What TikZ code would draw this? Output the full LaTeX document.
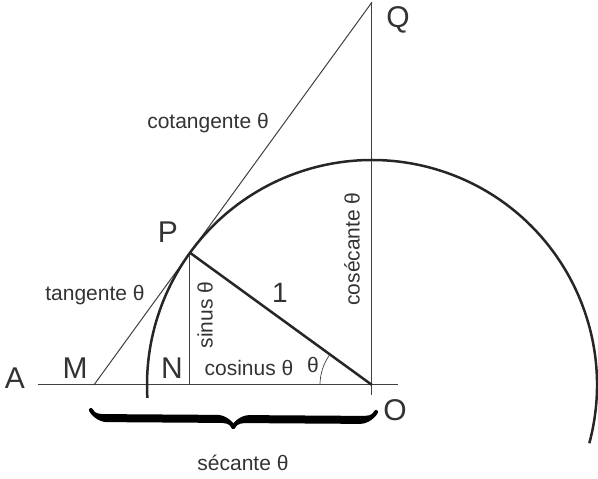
\documentclass[tikz,border=0pt]{standalone}
\usepackage{fontspec}
\setmainfont{Liberation Sans}
\usetikzlibrary{decorations.pathreplacing,calligraphy,calc}

\begin{document}
\begin{tikzpicture}[
  x=1pt, y=1pt,
  thin line/.style  = {line width=1pt, black!75},
  thick line/.style = {line width=2.5pt, black!85},
  lbl/.style   = {text=black!80, inner sep=0pt, font=\fontsize{21}{24}\selectfont},
  pt/.style    = {text=black!80, inner sep=0pt, font=\fontsize{30}{34}\selectfont},
  brace/.style = {decorate, decoration={calligraphic brace, amplitude=16pt, mirror},
                  line width=8pt, black!85},
]
\useasboundingbox (-372,-94) rectangle (226,385);

\coordinate (O) at (0,0);
\coordinate (P) at (144:225);
\coordinate (N) at (P |- O);
\coordinate (M) at (-278.1,0);
\coordinate (Q) at (0,382.8);
\coordinate (axisL) at (-334,0);
\coordinate (axisR) at (26,0);
\coordinate (vertB) at (0,-10);

% axes
\draw[thin line] (axisL) -- (axisR);
\draw[thin line] (Q) -- (vertB);
% tangent line through P
\draw[thin line] (M) -- (Q);
\draw[thin line] (P) -- (N);
% circle and radius
\draw[thick line] (-15:225) arc[start angle=-15, end angle=183.3, radius=225];
\draw[thick line] (O) -- (P);
\draw[thin line, line width=0.7pt] (180:52) arc[start angle=180, end angle=144, radius=52];

\node[pt] (labA) at (-357,7) {A};
\node[pt] (labM) at (-297,17) {M};
\node[pt] (labN) at (-200,17) {N};
\node[pt] (labP) at (-204,153) {P};
\node[pt] (labQ) at (26,365) {Q};
\node[pt] (labO) at (23,-25) {O};
\node[pt, font=\fontsize{28}{32}\selectfont] (labone) at (-92,92) {1};

\node[lbl] (cos) at (-123,17) {cosinus θ};
\node[lbl] (ang) at (-59,20) {θ};
\node[lbl, rotate=90] (sin) at (-167,70) {sinus θ};
\node[lbl] (tan) at (-277,90) {tangente θ};
\node[lbl] (cot) at (-164,262) {cotangente θ};
\node[lbl, rotate=90] (csc) at (-20,136) {cosécante θ};
\node[lbl] (sec) at (-129,-78) {sécante θ};

\draw[brace] ($(M)+(-3,-25)$) -- ($(O)+(4,-27)$);

\end{tikzpicture}
\end{document}
